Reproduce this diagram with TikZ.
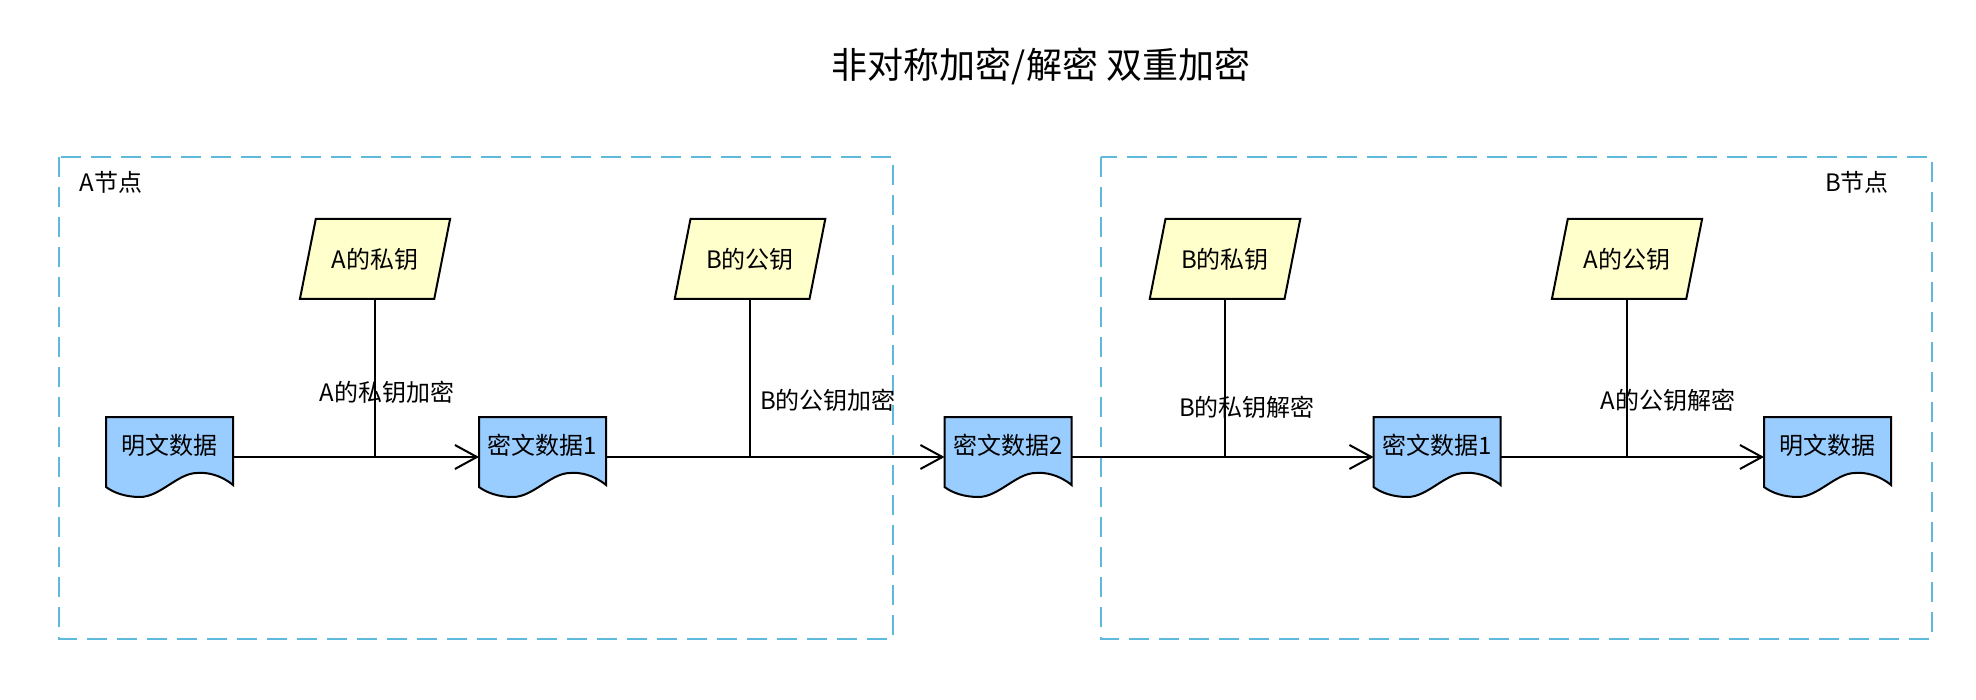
\documentclass[tikz,border=0pt]{standalone}
\usepackage{fontspec}
\setmainfont{Noto Sans CJK SC}
\usetikzlibrary{arrows.meta,shapes.geometric,backgrounds}
\definecolor{keyyellow}{RGB}{255,255,204}
\definecolor{docblue}{RGB}{153,204,255}
\definecolor{framecyan}{RGB}{95,185,220}
\tikzset{
    keybox/.style={trapezium, trapezium left angle=69.4, trapezium right angle=110.6,
        trapezium stretches=true, minimum width=75.5pt, minimum height=40pt,
        draw, line width=1pt, fill=keyyellow, font=\fontsize{12pt}{14pt}\selectfont},
    docbox/.style={rectangle, minimum width=63.5pt, minimum height=40pt, inner sep=0pt,
        outer sep=0pt, text height=10.5pt, text depth=13.5pt, font=\fontsize{12pt}{14pt}\selectfont},
    docshape/.style={draw, line width=1pt, fill=docblue},
    flow/.style={-{Straight Barb[length=11pt,width=12pt]}, line width=1pt},
    link/.style={line width=1pt},
    frame/.style={draw=framecyan, line width=1pt, dash pattern=on 10pt off 5pt},
    lbl/.style={inner sep=0pt, font=\fontsize{12pt}{14pt}\selectfont}
}
\begin{document}
\begin{tikzpicture}[x=0.5pt, y=-0.5pt]
        \useasboundingbox (0,0) rectangle (1976,700);
        \node
            [font=\fontsize{18pt}{22pt}\selectfont] (title) at (1041,66) {非对称加密/解密 双重加密};
        % the two hosts
        \draw
            [frame] (59,157) rectangle (893,639);
        \draw
            [frame] (1101,157) rectangle (1932,639);
        \node
            [lbl] (hostA) at (111,182) {A节点};
        \node
            [lbl] (hostB) at (1857,182) {B节点};
        % keys
        \node
            [keybox] (privA) at (375,259) {A的私钥};
        \node
            [keybox] (pubB) at (750,259) {B的公钥};
        \node
            [keybox] (privB) at (1225,259) {B的私钥};
        \node
            [keybox] (pubA) at (1627,259) {A的公钥};
        % data
        \node
            [docbox] (plainA) at (169.5,457) {明文数据};
        \node
            [docbox] (cipherA) at (542.5,457) {密文数据1};
        \node
            [docbox] (cipherAB) at (1008,457) {密文数据2};
        \node
            [docbox] (cipherB) at (1437,457) {密文数据1};
        \node
            [docbox] (plainB) at (1827.5,457) {明文数据};
        \begin{scope}[on background layer]
            \foreach \d in {plainA,cipherA,cipherAB,cipherB,plainB}
                \draw [docshape, shift={(\d.north west)}] (0,0) -- (127,0) -- (127,68)
                    .. controls (115,58) and (101,55) .. (91,56)
                    .. controls (72,56) and (54,80) .. (34,80)
                    .. controls (20,80) and (8,76) .. (0,70) -- cycle;
        \end{scope}
        % flow
        \draw
            [flow] (plainA) -- (cipherA);
        \draw
            [flow] (cipherA) -- (cipherAB);
        \draw
            [flow] (cipherAB) -- (cipherB);
        \draw
            [flow] (cipherB) -- (plainB);
        \draw
            [link] (privA) -- (privA |- plainA);
        \draw
            [link] (pubB) -- (pubB |- cipherA);
        \draw
            [link] (privB) -- (privB |- cipherAB);
        \draw
            [link] (pubA) -- (pubA |- cipherB);
        \node
            [lbl] (encA) at (387,392) {A的私钥加密};
        \node
            [lbl] (encB) at (828,400) {B的公钥加密};
        \node
            [lbl] (decB) at (1247,407) {B的私钥解密};
        \node
            [lbl] (decA) at (1668,400) {A的公钥解密};
    \end{tikzpicture}
\end{document}
